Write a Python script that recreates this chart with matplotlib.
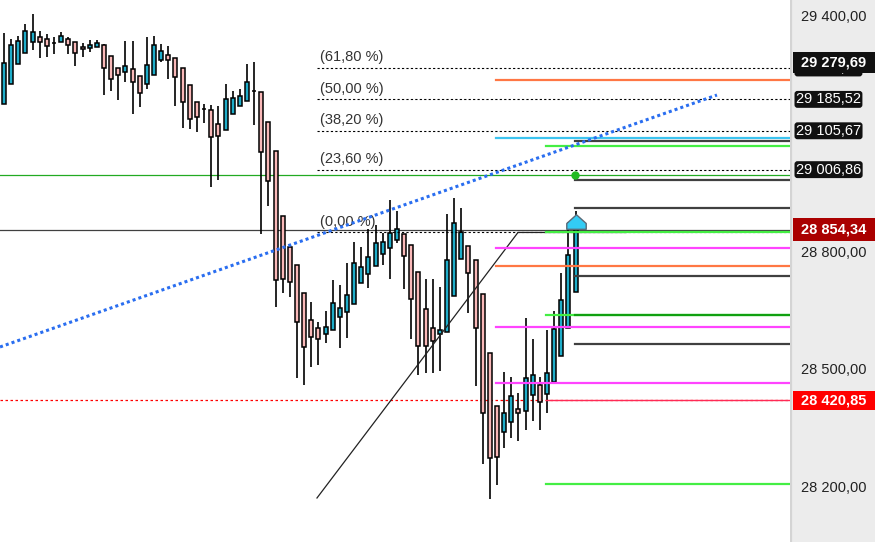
import matplotlib
matplotlib.use("Agg")
import matplotlib.pyplot as plt
import numpy as np
from matplotlib.transforms import blended_transform_factory
from matplotlib.patches import Rectangle
from matplotlib.path import Path
from matplotlib.ticker import FuncFormatter, FixedLocator

plt.rcParams['font.family'] = ['Liberation Sans', 'DejaVu Sans']

# ---------------- data ----------------
opens = [29174, 29225, 29275, 29303, 29331, 29344, 29339, 29330, 29331, 29339,
         29331, 29319, 29316, 29319, 29324, 29296, 29265, 29255, 29263, 29245,
         29225, 29248, 29286, 29298, 29291, 29265, 29222, 29179, 29162, 29158,
         29123, 29108, 29148, 29169, 29181, 29206, 29204, 29128, 29054, 28889,
         28810, 28764, 28693, 28625, 28604, 28589, 28599, 28632, 28645, 28665,
         28719, 28742, 28762, 28792, 28808, 28828, 28843, 28815, 28747, 28653,
         28604, 28589, 28594, 28686, 28780, 28813, 28777, 28691, 28541, 28406,
         28340, 28365, 28398, 28393, 28434, 28459, 28436, 28467, 28533, 28604,
         28696]
highs = [29354, 29339, 29347, 29377, 29403, 29359, 29352, 29344, 29357, 29344,
         29331, 29329, 29336, 29336, 29326, 29296, 29265, 29334, 29334, 29245,
         29344, 29347, 29326, 29321, 29291, 29265, 29222, 29179, 29174, 29171,
         29169, 29225, 29207, 29212, 29275, 29281, 29204, 29128, 29054, 28889,
         28810, 28764, 28693, 28670, 28620, 28647, 28726, 28714, 28769, 28823,
         28810, 28856, 28866, 28846, 28930, 28902, 28843, 28815, 28747, 28729,
         28729, 28708, 28894, 28935, 28909, 28813, 28777, 28691, 28541, 28406,
         28492, 28480, 28439, 28630, 28576, 28480, 28599, 28647, 28744, 28874,
         28902]
lows = [29174, 29225, 29275, 29303, 29311, 29291, 29293, 29301, 29331, 29301,
        29270, 29293, 29306, 29319, 29197, 29207, 29184, 29230, 29148, 29166,
        29212, 29248, 29281, 29237, 29169, 29113, 29110, 29103, 29125, 28963,
        28980, 29108, 29148, 29169, 29181, 29120, 28843, 28914, 28658, 28693,
        28683, 28477, 28459, 28505, 28510, 28566, 28599, 28553, 28579, 28665,
        28719, 28706, 28762, 28764, 28729, 28820, 28703, 28576, 28485, 28490,
        28490, 28495, 28594, 28686, 28780, 28642, 28457, 28258, 28169, 28205,
        28299, 28325, 28317, 28345, 28368, 28345, 28388, 28467, 28533, 28604,
        28696]
closes = [29278, 29324, 29334, 29359, 29357, 29331, 29321, 29328, 29347, 29324,
          29303, 29314, 29324, 29329, 29265, 29237, 29248, 29270, 29230, 29202,
          29273, 29324, 29309, 29286, 29242, 29179, 29136, 29141, 29160, 29090,
          29092, 29186, 29189, 29194, 29230, 29208, 29052, 28978, 28726, 28729,
          28721, 28620, 28556, 28581, 28576, 28607, 28668, 28655, 28688, 28769,
          28759, 28785, 28820, 28823, 28846, 28856, 28787, 28678, 28558, 28558,
          28571, 28599, 28777, 28871, 28848, 28744, 28604, 28388, 28274, 28276,
          28388, 28431, 28388, 28477, 28485, 28416, 28490, 28602, 28675, 28790,
          28854.34]

last_price = 28854.34
support_price = 28420.85
indicator_price = 29279.69
green_ref_price = 28992.5
signal_price = 28870

fib_labels = ["(0,00 %)", "(23,60 %)", "(38,20 %)", "(50,00 %)", "(61,80 %)"]
fib_prices = [28847.13, 29006.86, 29105.67, 29185.52, 29265.38]
fib_box_labels = ["29 006,86", "29 105,67", "29 185,52", "29 265,38"]
fib_box_prices = [29006.86, 29105.67, 29185.52, 29265.38]

trend_prices = [28556, 29196.6]          # blue dotted trendline
swing_prices = [28172, 28847.13, 28847.13]  # fib anchor line

y_ticks = [28200, 28500, 28800, 29400]

orange_levels = [29234.8, 28761.9]
cyan_levels = [29087.3]
magenta_levels = [28807.6, 28607.5, 28465.1]
gray_levels = [29080.4, 28981.3, 28910.0, 28736.4, 28564.3]
lime_levels = [29067.0, 28849.0, 28637.3, 28207.6]
green_levels = [28637.3]
red_levels = [28420.85]

# ---------------- layout / styles ----------------
W, H = 875, 542
PANEL = 790
fig = plt.figure(figsize=(W / 100, H / 100), dpi=100)
ax = fig.add_axes([0, 0, PANEL / W, 1])
pax = fig.add_axes([PANEL / W, 0, (W - PANEL) / W, 1])
ax.set_zorder(2)
pax.set_zorder(1)

ymin, ymax = 28060.1, 29438.2
xmin, xmax = -0.56, 110.0
ax.set_ylim(ymin, ymax)
ax.set_xlim(xmin, xmax)
pax.set_ylim(ymin, ymax)
pax.set_xlim(0, 1)

UP = '#1fadc9'
DOWN = '#f9b8b8'

n = len(opens)
x = np.arange(n)
o = np.array(opens); c = np.array(closes); h = np.array(highs); l = np.array(lows)
up = c >= o

# horizontal full-width reference lines (beneath candles)
ax.axhline(green_ref_price, color='#22aa22', lw=0.9, zorder=1)
ax.axhline(last_price, color='#404040', lw=0.9, zorder=1)
ax.axhline(support_price, color='#ff0000', lw=0.9, ls=(0, (2, 2)), zorder=1)

# candles
ax.vlines(x, l, h, color='black', lw=1.2, zorder=2)
bh = np.abs(c - o)
bh = np.where(bh < 1, 1, bh)
ax.bar(x, bh, bottom=np.minimum(o, c), width=0.56,
       color=np.where(up, UP, DOWN), edgecolor='black', linewidth=1.1, zorder=3)

# fib retracement
x_fib = 43.8
for lab, p in zip(fib_labels, fib_prices):
    ax.plot([x_fib, xmax], [p, p], color='black', lw=0.8, ls=(0, (2, 2)), zorder=4)
    ax.annotate(lab, xy=(x_fib, p), xytext=(2.5, 7.6), textcoords='offset points',
                ha='left', va='center', fontsize=10.5, color='#333333', zorder=5)
ax.plot([x_fib, 71.93, 87.04], swing_prices, color='#222222', lw=0.9, zorder=4)

# blue dotted trendline
ax.plot([xmin, 99.78], trend_prices, color='#2a6ef0', lw=2.2, ls=(0, (1, 1)), zorder=5)

# right-side levels
x_a, x_b, x_c = 68.85, 75.85, 79.9
for p in orange_levels:
    ax.plot([x_a, xmax], [p, p], color='#ff7744', lw=1.6, zorder=4)
for p in cyan_levels:
    ax.plot([x_a, xmax], [p, p], color='#3cc4f0', lw=1.6, zorder=4)
for p in magenta_levels:
    ax.plot([x_a, xmax], [p, p], color='#ff44ff', lw=1.6, zorder=4)
for p in lime_levels:
    ax.plot([x_b, xmax], [p, p], color='#44ee44', lw=1.6, zorder=4)
for p in green_levels:
    ax.plot([x_c, xmax], [p, p], color='#10a010', lw=1.6, zorder=4)
for p in gray_levels:
    ax.plot([x_c, xmax], [p, p], color='#404040', lw=1.6, zorder=4)
for p in red_levels:
    ax.plot([x_b, xmax], [p, p], color='#ff2a55', lw=1.0, zorder=4)

# markers
ax.plot([x_c], [green_ref_price], 'o', color='#22bb22', ms=5, zorder=6)
house = Path([(-1, -0.6), (-1, 0.0), (0, 0.9), (1, 0.0), (1, -0.6), (-1, -0.6)],
             [Path.MOVETO, Path.LINETO, Path.LINETO, Path.LINETO, Path.LINETO, Path.CLOSEPOLY])
ax.plot([n - 1], [signal_price], marker=house, ms=14, color='#33ccf5',
        markeredgecolor='#5a6a78', markeredgewidth=1, zorder=6)

# axes styling
for s in ax.spines.values():
    s.set_visible(False)
ax.set_xticks([])
ax.yaxis.tick_right()
ax.yaxis.set_major_locator(FixedLocator(y_ticks))
ax.yaxis.set_major_formatter(FuncFormatter(
    lambda v, _: f"{v:,.2f}".replace(",", " ").replace(".", ",")))
ax.tick_params(axis='y', length=0, pad=8, labelsize=10.5, labelcolor='#222222')

# right panel
pax.set_facecolor('#ececec')
for s in pax.spines.values():
    s.set_visible(False)
pax.set_xticks([]); pax.set_yticks([])
pax.axvline(0.01, color='#d4d4d4', lw=1.6)
tr = blended_transform_factory(pax.transAxes, pax.transData)

def rounded_label(price, text):
    pax.text(0.07, price, text, transform=tr, ha='left', va='center', fontsize=10.5,
             color='white',
             bbox=dict(boxstyle='round,pad=0.1,rounding_size=0.2', fc='#111111', ec='none'))

for p, t in zip(fib_box_labels, fib_box_prices):
    pass
for t, p in zip(fib_box_labels, fib_box_prices):
    rounded_label(p, t)

def full_label(price, text, fc, hpx):
    hp = hpx * (ymax - ymin) / H
    pax.add_patch(Rectangle((0.03, price - hp / 2), 1.0, hp, transform=tr,
                            fc=fc, ec='none', zorder=3, clip_on=False))
    pax.text(0.13, price, text, transform=tr, ha='left', va='center', fontsize=10.5,
             fontweight='bold', color='white', zorder=4)

fmt = lambda v: f"{v:,.2f}".replace(",", " ").replace(".", ",")
full_label(indicator_price, fmt(indicator_price), '#111111', 21)
full_label(last_price, fmt(last_price), '#aa0000', 23)
full_label(support_price, fmt(support_price), '#ff0000', 19)

fig.savefig('out.png', dpi=100)
